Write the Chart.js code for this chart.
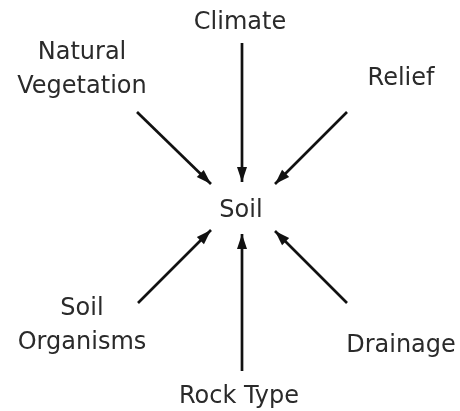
<!DOCTYPE html>
<html>
<head>
<meta charset="utf-8">
<script src="https://cdn.jsdelivr.net/npm/chart.js@4"></script>
<style>
    body { margin: 0; background: #fff; }
    canvas { display: block; }
</style>
</head>
<body>
<canvas id="myChart" width="460" height="411"></canvas>
<script>
// diagram values (units = the 460 x 411 drawing grid)
const factors = ['Climate', 'Natural\nVegetation', 'Relief', 'Soil\nOrganisms', 'Rock Type', 'Drainage'];
const labelX = [240, 82, 401, 82, 239, 401];
const labelY = [29, 59, 85, 315, 403, 352];

const arrowFromX = [242, 137, 347, 138, 242, 347];
const arrowFromY = [43, 112, 112, 303, 371, 303];
const arrowToX = [242, 211, 275, 211, 242, 275];
const arrowToY = [182, 184, 184, 230, 234, 231];

const centreLabel = 'Soil';
const centreX = 241;
const centreY = 217;


const arrowHeads = {
    id: 'arrowHeads',
    afterDatasetsDraw(chart) {
        const ctx = chart.ctx;
        ctx.save();
        ctx.fillStyle = '#111';
        chart.data.datasets.forEach((ds, i) => {
            const pts = chart.getDatasetMeta(i).data;
            const a = pts[0], b = pts[pts.length - 1];
            const ang = Math.atan2(b.y - a.y, b.x - a.x);
            const len = 15, half = 5;
            ctx.beginPath();
            ctx.moveTo(b.x, b.y);
            ctx.lineTo(b.x - len * Math.cos(ang) - half * Math.sin(ang), b.y - len * Math.sin(ang) + half * Math.cos(ang));
            ctx.lineTo(b.x - len * Math.cos(ang) + half * Math.sin(ang), b.y - len * Math.sin(ang) - half * Math.cos(ang));
            ctx.closePath();
            ctx.fill();
        });
        ctx.restore();
    }
};

const labels = {
    id: 'labels',
    afterDraw(chart) {
        const ctx = chart.ctx;
        const xs = chart.scales.x, ys = chart.scales.y;
        ctx.save();
        ctx.font = '24px "DejaVu Sans"';
        ctx.fillStyle = '#2a2a2a';
        ctx.textAlign = 'center';
        ctx.textBaseline = 'alphabetic';
        factors.forEach((name, i) => {
            name.split('\n').forEach((line, j) => {
                ctx.fillText(line, xs.getPixelForValue(labelX[i]), ys.getPixelForValue(labelY[i]) + j * 34);
            });
        });
        ctx.fillText(centreLabel, xs.getPixelForValue(centreX), ys.getPixelForValue(centreY));
        ctx.restore();
    }
};


new Chart(document.getElementById('myChart').getContext('2d'), {
    type: 'scatter',
    data: {
        datasets: factors.map((f, i) => ({
            label: f,
            data: [
                { x: arrowFromX[i], y: arrowFromY[i] },
                { x: arrowToX[i], y: arrowToY[i] }
            ],
            showLine: true,
            borderColor: '#111',
            borderWidth: 2.7,
            pointRadius: 0,
            pointHoverRadius: 0
        }))
    },
    options: {
        responsive: false,
        animation: false,
        layout: { padding: 0 },
        scales: {
            x: { type: 'linear', min: 0, max: 460, display: false },
            y: { type: 'linear', min: 0, max: 411, reverse: true, display: false }
        },
        plugins: {
            legend: { display: false },
            tooltip: { enabled: false }
        }
    },
    plugins: [arrowHeads, labels]
});
</script>
</body>
</html>
